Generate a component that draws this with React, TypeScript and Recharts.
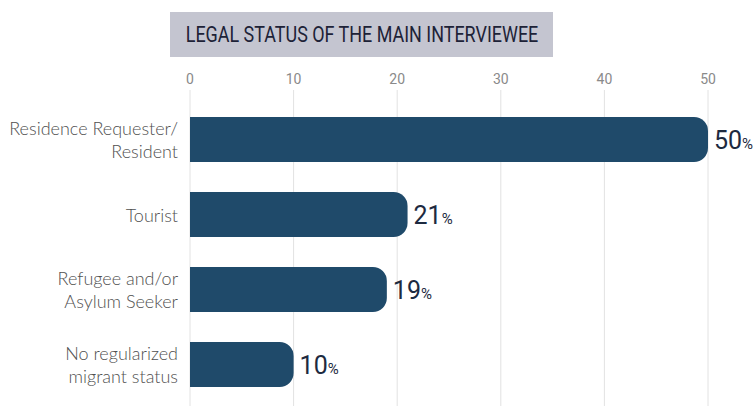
import React from 'react';
import { BarChart, Bar, XAxis, YAxis, CartesianGrid, LabelList } from 'recharts';

const categories = [
    'Residence Requester/\nResident',
    'Tourist',
    'Refugee and/or\nAsylum Seeker',
    'No regularized\nmigrant status',
];
const shares = [50, 21, 19, 10];
const xTicks = [0, 10, 20, 30, 40, 50];
const title = 'LEGAL STATUS OF THE MAIN INTERVIEWEE';

const data = categories.map((name, i) => ({ name, value: shares[i] }));

const CategoryTick = (props: any) => {
    const { x, y, payload } = props;
    const lines = String(payload.value).split('\n');
    const lh = 23;
    const start = y - ((lines.length - 1) * lh) / 2;
    return (
        <text
            x={x}
            y={start}
            textAnchor="end"
            dominantBaseline="central"
            fill="#505050"
            fontSize={18}
            fontFamily="Lato"
            fontWeight={300}
        >
            {lines.map((l: string, i: number) => (
                <tspan key={i} x={x} y={start + i * lh} dominantBaseline="central">
                    {l}
                </tspan>
            ))}
        </text>
    );
};

const ValueLabel = (props: any) => {
    const { x, y, width, height, value } = props;
    return (
        <text
            x={x + width + 6}
            y={y + height / 2 + 9}
            fill="#1d2a40"
            fontFamily="Roboto"
        >
            <tspan fontSize={25}>{value}</tspan>
            <tspan fontSize={15}>%</tspan>
        </text>
    );
};

export default function App() {
    return (
        <div style={{ position: 'absolute', left: 0, top: 0, width: 755, height: 406, background: '#fff' }}>
            <div
                style={{
                    position: 'absolute',
                    left: 170,
                    top: 12,
                    width: 383,
                    height: 45,
                    background: '#c4c5d0',
                    color: '#1d2237',
                    fontFamily: 'Roboto',
                    fontSize: 22,
                    lineHeight: '45px',
                    whiteSpace: 'nowrap',
                }}
            >
                <span
                    style={{
                        position: 'absolute',
                        left: '50%',
                        top: 0,
                        transform: 'translateX(-50%) scaleX(0.815)',
                    }}
                >
                    {title}
                </span>
            </div>
            <BarChart
                width={755}
                height={406}
                data={data}
                layout="vertical"
                margin={{ top: 60, right: 47, bottom: 0, left: 0 }}
                barSize={45}
            >
                <CartesianGrid horizontal={false} stroke="#e2e2e2" />
                <XAxis
                    type="number"
                    orientation="top"
                    domain={[0, 50]}
                    ticks={xTicks}
                    axisLine={false}
                    tickLine={false}
                    height={30}
                    tickMargin={0}
                    tick={{ fill: '#8a8a8a', fontSize: 14, fontFamily: 'Roboto' }}
                />
                <YAxis
                    type="category"
                    dataKey="name"
                    width={190}
                    axisLine={false}
                    tickLine={false}
                    tickMargin={6}
                    padding={{ top: 12, bottom: 4 }}
                    tick={<CategoryTick />}
                />
                <Bar dataKey="value" fill="#1f4a6a" radius={[0, 14, 14, 0]} isAnimationActive={false}>
                    <LabelList dataKey="value" content={<ValueLabel />} />
                </Bar>
            </BarChart>
        </div>
    );
}
